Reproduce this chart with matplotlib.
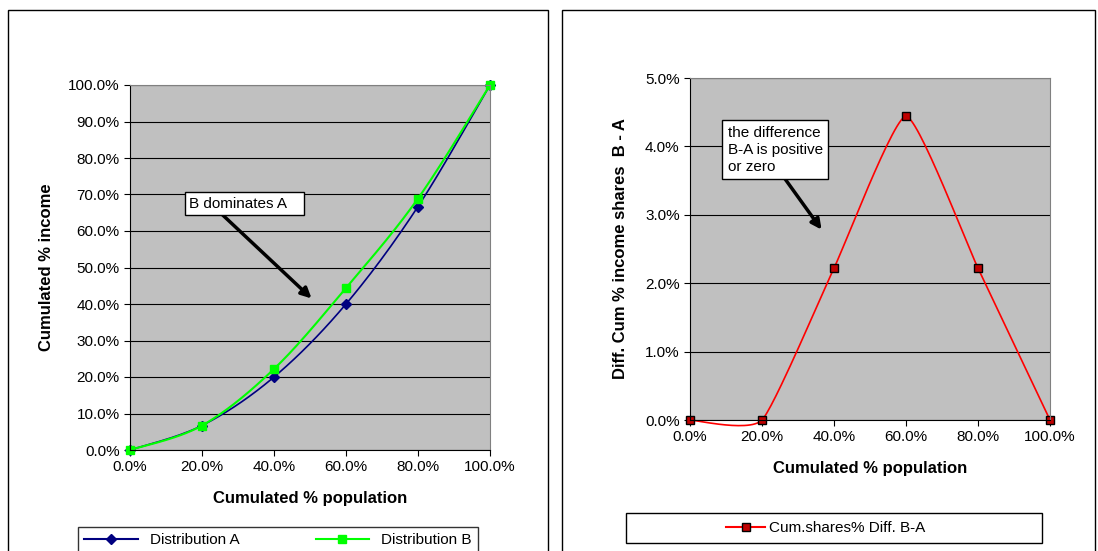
import numpy as np
import matplotlib
matplotlib.use("Agg")
import matplotlib.pyplot as plt
from matplotlib.patches import Rectangle
from matplotlib.ticker import FuncFormatter

pop = [0.0, 0.2, 0.4, 0.6, 0.8, 1.0]
dist_a = [0.0, 0.067, 0.20, 0.40, 0.667, 1.0]
dist_b = [0.0, 0.067, 0.222, 0.444, 0.689, 1.0]
diff_ba = [0.0, 0.0, 0.0222, 0.0444, 0.0222, 0.0]

def smooth(x, y, n=30, k=6.0):
    # Catmull-Rom style bezier (Excel-like smoothed line)
    x = np.asarray(x); y = np.asarray(y)
    px = np.concatenate([[x[0]], x, [x[-1]]]); py = np.concatenate([[y[0]], y, [y[-1]]])
    ox, oy = [], []
    for i in range(1, len(px) - 2):
        p0 = np.array([px[i-1], py[i-1]]); p1 = np.array([px[i], py[i]])
        p2 = np.array([px[i+1], py[i+1]]); p3 = np.array([px[i+2], py[i+2]])
        c1 = p1 + (p2 - p0) / k; c2 = p2 - (p3 - p1) / k
        t = np.linspace(0, 1, n)[:, None]
        b = (1-t)**3*p1 + 3*(1-t)**2*t*c1 + 3*(1-t)*t**2*c2 + t**3*p2
        ox.extend(b[:, 0]); oy.extend(b[:, 1])
    return ox, oy

plt.rcParams['font.family'] = ['Liberation Sans', 'DejaVu Sans']
fig = plt.figure(figsize=(10.98, 5.51), dpi=100)
W, H = 1098, 551
def ax_at(x0, y0, x1, y1):
    return fig.add_axes([x0/W, 1-y1/H, (x1-x0)/W, (y1-y0)/H])

def frame(x0, y0, x1, y1):
    fig.patches.append(Rectangle((x0/W, 1-y1/H), (x1-x0)/W, (y1-y0)/H, transform=fig.transFigure,
                                 fill=False, ec='black', lw=1))

frame(8, 10, 548, 553)
frame(562, 10, 1095, 553)

pct1 = FuncFormatter(lambda v, p: f"{v*100:.1f}%")

# Left chart
ax = ax_at(130, 85, 490, 450)
ax.set_facecolor('#c0c0c0')
ax.set_xlim(0, 1); ax.set_ylim(0, 1)
ax.set_xticks(pop); ax.set_yticks(np.arange(0, 1.01, 0.1))
ax.xaxis.set_major_formatter(pct1); ax.yaxis.set_major_formatter(pct1)
ax.grid(axis='y', color='black', lw=0.8)
ax.set_axisbelow(True)
for s in ['top', 'right']:
    ax.spines[s].set_color('#808080')
ax.tick_params(labelsize=11, length=4)
sx, sy = smooth(pop, dist_a)
ax.plot(sx, sy, color='#000080', lw=1.2)
ax.plot(pop, dist_a, 'D', color='#000080', ms=5, ls='none', clip_on=False)
sx, sy = smooth(pop, dist_b)
ax.plot(sx, sy, color='#00ff00', lw=1.5)
ax.plot(pop, dist_b, 's', color='#00ff00', ms=6, ls='none', clip_on=False)
ax.set_xlabel('Cumulated % population', fontsize=12, fontweight='bold', labelpad=12)
ax.set_ylabel('Cumulated % income', fontsize=12, fontweight='bold', labelpad=10)
ax.annotate('', xy=(0.51, 0.41), xytext=(0.24, 0.66),
            arrowprops=dict(arrowstyle='-|>', color='black', lw=2.5, mutation_scale=15))
ax.text(0.165, 0.675, 'B dominates A   ', fontsize=11, va='center',
        bbox=dict(boxstyle='square,pad=0.3', fc='white', ec='black'))
fig.legend([ax.plot([], [], color='#000080', marker='D', ms=5)[0],
            ax.plot([], [], color='#00ff00', marker='s', ms=6)[0]],
           ['Distribution A', 'Distribution B'], ncol=2, loc='center',
           bbox_to_anchor=(278/W, 1-540/H), fontsize=11, frameon=True, fancybox=False,
           edgecolor='black', columnspacing=5, handlelength=3.5)

# Right chart
ax2 = ax_at(690, 78, 1050, 420)
ax2.set_facecolor('#c0c0c0')
ax2.set_xlim(0, 1); ax2.set_ylim(0, 0.05)
ax2.set_xticks(pop); ax2.set_yticks(np.arange(0, 0.0501, 0.01))
ax2.xaxis.set_major_formatter(pct1); ax2.yaxis.set_major_formatter(pct1)
ax2.grid(axis='y', color='black', lw=0.8)
ax2.set_axisbelow(True)
for s in ['top', 'right']:
    ax2.spines[s].set_color('#808080')
ax2.tick_params(labelsize=11, length=4)
sx, sy = smooth(pop, diff_ba, k=12.0)
ax2.plot(sx, sy, color='red', lw=1.2, clip_on=False)
ax2.plot(pop, diff_ba, 's', color='#c00000', mec='black', ms=6, ls='none', clip_on=False)
ax2.set_xlabel('Cumulated % population', fontsize=12, fontweight='bold', labelpad=12)
ax2.set_ylabel('Diff. Cum % income shares  B - A', fontsize=12, fontweight='bold', labelpad=12)
ax2.annotate('', xy=(0.37, 0.0275), xytext=(0.24, 0.037),
             arrowprops=dict(arrowstyle='-|>', color='black', lw=2.5, mutation_scale=15))
ax2.text(0.105, 0.0395, 'the difference\nB-A is positive\nor zero', fontsize=11, va='center',
         linespacing=1.3, bbox=dict(boxstyle='square,pad=0.35', fc='white', ec='black'))
frame(626, 513, 1042, 543)
fig.legend([ax2.plot([], [], color='red', marker='s', mfc='#c00000', mec='black', ms=6)[0]],
           ['Cum.shares% Diff. B-A'], loc='center', bbox_to_anchor=(826/W, 1-528/H),
           fontsize=11, frameon=False, handlelength=2.5, borderaxespad=0, handletextpad=0.3)

fig.savefig('out.png', dpi=100)
